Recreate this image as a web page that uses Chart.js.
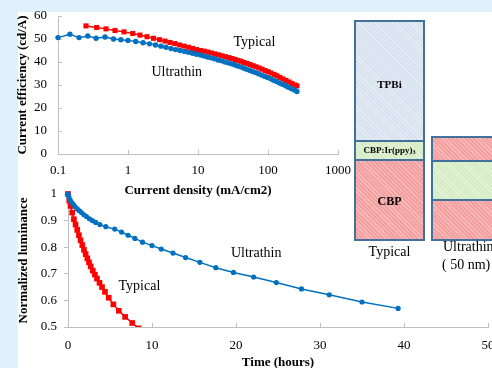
<!DOCTYPE html>
<html>
<head>
<meta charset="utf-8">
<script src="https://cdn.jsdelivr.net/npm/chart.js@4.4.0/dist/chart.umd.min.js"></script>
<style>
body{margin:0;width:492px;height:368px;overflow:hidden;background:#e0f1fb;position:relative;font-family:"Liberation Serif","Times New Roman",serif}
#panel{position:absolute;left:18px;top:12px;width:474px;height:356px;background:#fff}
#effChart{position:absolute;left:0;top:0}
#lumChart{position:absolute;left:0;top:180px}
.blk{position:absolute;box-sizing:border-box;border:2px solid #41719c}
.blue{background:repeating-linear-gradient(45deg,rgba(255,255,255,.35) 0 1px,transparent 1px 3px),#d9e3f0}
.green{background:repeating-linear-gradient(45deg,rgba(255,255,255,.35) 0 1px,transparent 1px 3px),#d6ecc4}
.pink{background:repeating-linear-gradient(45deg,rgba(255,255,255,.3) 0 1px,transparent 1px 3px),#f5a0a0}
.txt{position:absolute;color:#000;white-space:pre}
.b{font-weight:bold;text-align:center}
</style>
</head>
<body>
<div id="panel"></div>
<canvas id="effChart" width="360" height="200" style="width:360px;height:200px"></canvas>
<canvas id="lumChart" width="492" height="192" style="width:492px;height:192px"></canvas>

<!-- device stacks -->
<div class="blk blue" style="left:354px;top:20px;width:71px;height:122px"></div>
<div class="blk green" style="left:354px;top:140px;width:71px;height:21px"></div>
<div class="blk pink" style="left:354px;top:159px;width:71px;height:82px"></div>
<div class="blk pink" style="left:431px;top:136px;width:70px;height:26px"></div>
<div class="blk green" style="left:431px;top:160px;width:70px;height:41px"></div>
<div class="blk pink" style="left:431px;top:199px;width:70px;height:42px"></div>
<div class="txt b" style="left:354px;width:71px;top:77px;font-size:11px;line-height:14px">TPBi</div>
<div class="txt b" style="left:354px;width:71px;top:144px;font-size:9px;line-height:12px">CBP:Ir(ppy)<span style="font-size:6px;vertical-align:-1px">3</span></div>
<div class="txt b" style="left:354px;width:71px;top:194px;font-size:12px;line-height:14px">CBP</div>
<div class="txt" style="left:354px;width:71px;text-align:center;top:244px;font-size:14px;line-height:16px">Typical</div>
<div class="txt" style="left:443px;top:239px;font-size:14px;line-height:16px">Ultrathin</div>
<div class="txt" style="left:442px;top:257px;font-size:14px;line-height:16px">( 50 nm)</div>

<script>
// current efficiency vs current density
let densityTypical = [0.251, 0.357, 0.485, 0.652, 0.877, 1.17, 1.48, 1.87, 2.31, 2.82, 3.38, 3.98, 4.69, 5.44, 6.31, 7.32, 8.35, 9.52, 10.9, 12.4, 13.9, 15.6, 17.5, 19.6, 22.0, 24.7, 27.7, 30.6, 33.8, 37.3, 41.1, 45.4, 50.1, 55.3, 61.1, 67.4, 74.4, 82.1, 90.6, 100, 110, 122, 134, 148, 164, 181, 200, 220, 243, 259]
let effTypical = [55.7, 55.0, 54.4, 53.7, 53.1, 52.4, 51.7, 51.0, 50.3, 49.7, 49.1, 48.5, 48.0, 47.4, 46.9, 46.4, 45.9, 45.4, 45.0, 44.7, 44.3, 43.9, 43.5, 43.1, 42.7, 42.3, 41.9, 41.5, 41.1, 40.7, 40.3, 39.8, 39.4, 38.9, 38.4, 37.9, 37.4, 36.9, 36.3, 35.8, 35.2, 34.6, 34.0, 33.3, 32.6, 32.0, 31.3, 30.7, 30.0, 29.6]
let densityThin = [0.1, 0.148, 0.2, 0.266, 0.35, 0.47, 0.62, 0.79, 1.0, 1.29, 1.64, 2.03, 2.47, 2.96, 3.49, 4.11, 4.77, 5.53, 6.41, 7.32, 8.35, 9.52, 10.9, 12.2, 13.7, 15.3, 17.2, 19.3, 21.7, 24.3, 27.3, 30.1, 33.2, 36.6, 40.5, 44.7, 49.3, 54.4, 60.1, 66.3, 73.1, 80.7, 89.1, 98.4, 109, 120, 132, 146, 161, 178, 196, 217, 239, 259]
let effThin = [50.6, 52.1, 50.6, 51.3, 50.3, 50.9, 50.0, 49.7, 49.4, 48.9, 48.4, 47.9, 47.4, 46.9, 46.4, 45.9, 45.4, 45.0, 44.6, 44.2, 43.8, 43.4, 43.0, 42.6, 42.2, 41.8, 41.4, 40.9, 40.5, 40.0, 39.6, 39.2, 38.8, 38.3, 37.9, 37.4, 36.9, 36.4, 35.9, 35.4, 34.9, 34.3, 33.8, 33.3, 32.7, 32.1, 31.5, 30.9, 30.3, 29.7, 29.0, 28.4, 27.8, 27.2]
let densityTicks = [0.1, 1, 10, 100, 1000]

// normalized luminance vs time
let timeTypical = [0, 0.15, 0.3, 0.5, 0.7, 0.9, 1.1, 1.3, 1.5, 1.7, 1.9, 2.1, 2.3, 2.5, 2.7, 2.95, 3.2, 3.45, 3.75, 4.05, 4.4, 4.85, 5.4, 6.05, 6.8, 7.65, 8.4]
let lumTypical = [1.0, 0.975, 0.955, 0.93, 0.905, 0.885, 0.865, 0.845, 0.826, 0.808, 0.79, 0.774, 0.758, 0.743, 0.728, 0.712, 0.697, 0.682, 0.666, 0.65, 0.632, 0.61, 0.585, 0.561, 0.538, 0.515, 0.495]
let timeThin = [0, 0.1, 0.25, 0.45, 0.65, 0.85, 1.1, 1.35, 1.6, 1.9, 2.2, 2.55, 2.9, 3.3, 3.8, 4.5, 5.56, 6.37, 7.16, 7.96, 8.87, 10.0, 11.1, 12.5, 14.0, 15.7, 17.6, 19.7, 22.1, 24.8, 27.8, 31.1, 35.0, 39.3]
let lumThin = [1.0, 0.99, 0.978, 0.968, 0.96, 0.952, 0.944, 0.937, 0.93, 0.922, 0.915, 0.907, 0.9, 0.893, 0.885, 0.877, 0.868, 0.857, 0.845, 0.833, 0.819, 0.806, 0.793, 0.778, 0.761, 0.743, 0.723, 0.705, 0.688, 0.667, 0.643, 0.621, 0.594, 0.57]

let effNotes = [{text: 'Typical', x: 64, y: 48.6}, {text: 'Ultrathin', x: 4.97, y: 35.4}]
let lumNotes = [{text: 'Ultrathin', x: 22.4, y: 0.778}, {text: 'Typical', x: 8.5, y: 0.652}]

const serif = '"Liberation Serif", "Times New Roman", serif'
const red = '#ff0000'
const blue = '#0070c0'
const axisGray = '#bfbfbf'

function pairs(xs, ys){
    return xs.map((x, i) => ({x: x, y: ys[i]}))
}

const notesPlugin = {
    id: 'notes',
    afterDatasetsDraw(chart, args, opts){
        let ctx = chart.ctx
        ctx.save()
        ctx.font = '14px ' + serif
        ctx.fillStyle = '#000'
        ctx.textAlign = 'center'
        ctx.textBaseline = 'middle'
        opts.items.forEach(n => {
            ctx.fillText(n.text, chart.scales.x.getPixelForValue(n.x), chart.scales.y.getPixelForValue(n.y))
        })
        ctx.restore()
    }
}

function series(data, color, style, radius, clip){
    return {
        data: data,
        borderColor: color,
        backgroundColor: color,
        borderWidth: 1.5,
        pointStyle: style,
        pointRadius: radius,
        pointBorderWidth: 0,
        tension: 0,
        clip: clip
    }
}

const tickFont = {family: serif, size: 13}
const titleFont = {family: serif, size: 13, weight: 'bold'}

new Chart(document.getElementById('effChart'), {
    type: 'line',
    data: {
        datasets: [
            series(pairs(densityThin, effThin), blue, 'circle', 2.7, 8),
            series(pairs(densityTypical, effTypical), red, 'rect', 3.6, 8)
        ]
    },
    options: {
        responsive: false,
        animation: false,
        layout: {padding: {top: 16, right: 22, left: 0, bottom: 0}},
        plugins: {legend: {display: false}, tooltip: {enabled: false}, notes: {items: effNotes}},
        scales: {
            x: {
                type: 'logarithmic', min: 0.1, max: 1000,
                afterBuildTicks: s => { s.ticks = densityTicks.map(v => ({value: v})) },
                afterFit: s => { s.height = 46; s.paddingLeft = 0; s.paddingRight = 0 },
                ticks: {callback: v => String(v), font: tickFont, color: '#000', padding: 13, maxRotation: 0, autoSkip: false},
                grid: {drawOnChartArea: false, tickLength: -4, color: axisGray},
                border: {color: axisGray},
                title: {display: true, text: 'Current density (mA/cm2)', font: titleFont, color: '#000', padding: {top: 0, bottom: 2}}
            },
            y: {
                min: 0, max: 60,
                afterFit: s => { s.width = 58; s.paddingTop = 0; s.paddingBottom = 0 },
                ticks: {stepSize: 10, font: tickFont, color: '#000', padding: 15},
                grid: {drawOnChartArea: false, tickLength: -4, color: axisGray},
                border: {color: axisGray},
                title: {display: true, text: 'Current efficiency (cd/A)', font: titleFont, color: '#000', padding: {top: 15, bottom: 0}}
            }
        }
    },
    plugins: [notesPlugin]
})

new Chart(document.getElementById('lumChart'), {
    type: 'line',
    data: {
        datasets: [
            series(pairs(timeThin, lumThin), blue, 'circle', 2.6, {left: 8, top: 8, right: 8, bottom: 0}),
            series(pairs(timeTypical, lumTypical), red, 'rect', 4, {left: 8, top: 8, right: 8, bottom: 0})
        ]
    },
    options: {
        responsive: false,
        animation: false,
        layout: {padding: {top: 14, right: 3, left: 0, bottom: 0}},
        plugins: {legend: {display: false}, tooltip: {enabled: false}, notes: {items: lumNotes}},
        scales: {
            x: {
                type: 'linear', min: 0, max: 50,
                afterFit: s => { s.height = 45; s.paddingLeft = 0; s.paddingRight = 0 },
                ticks: {stepSize: 10, font: tickFont, color: '#000', padding: 15, maxRotation: 0, autoSkip: false},
                grid: {drawOnChartArea: false, tickLength: -4, color: axisGray},
                border: {color: axisGray},
                title: {display: true, text: 'Time (hours)', font: titleFont, color: '#000', padding: {top: 0, bottom: 2}}
            },
            y: {
                min: 0.5, max: 1,
                afterFit: s => { s.width = 68; s.paddingTop = 0; s.paddingBottom = 0 },
                ticks: {stepSize: 0.1, callback: v => String(+v.toFixed(1)), font: tickFont, color: '#000', padding: 7},
                grid: {drawOnChartArea: false, tickLength: 4, color: axisGray},
                border: {color: axisGray},
                title: {display: true, text: 'Normalized luminance', font: titleFont, color: '#000', padding: {top: 15.5, bottom: 0}}
            }
        }
    },
    plugins: [notesPlugin]
})
</script>
</body>
</html>
